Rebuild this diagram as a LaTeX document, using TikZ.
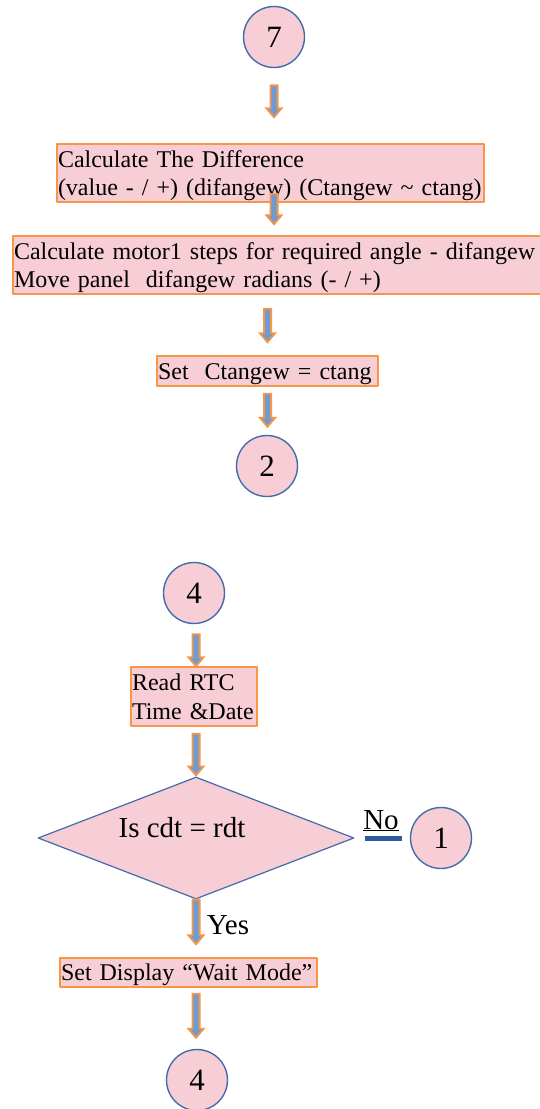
\documentclass[tikz,border=0pt]{standalone}
\usepackage{fontspec}
\setmainfont{Liberation Serif}
\usetikzlibrary{shapes.geometric,calc}
\definecolor{pinkfill}{RGB}{248,206,214}
\definecolor{orangeline}{RGB}{247,150,70}
\definecolor{circleblue}{RGB}{65,108,170}
\definecolor{arrowblue}{RGB}{110,155,210}
\definecolor{noblue}{RGB}{46,91,154}

% block arrow between two anchors, #3 and #4 are the gaps (px) below #1 and above #2
\newcommand{\flowarrow}[4]{%
  \filldraw[draw=orangeline,fill=arrowblue,line width=1.8pt,line join=miter]
    let \p1=($(#1)+(0,#3)$), \p2=($(#2)+(0,-#4)$) in
    (\x1-3.6pt,\y1) -- (\x1+3.6pt,\y1) -- (\x1+3.6pt,\y2+9pt) -- (\x1+7.6pt,\y2+9pt)
    -- (\x1,\y2) -- (\x1-7.6pt,\y2+9pt) -- (\x1-3.6pt,\y2+9pt) -- cycle;}
% one line of box text, never broken
\newcommand{\boxline}[1]{\mbox{\rule[-6pt]{0pt}{28.5pt}#1}}

\tikzset{
  conn/.style={circle,draw=circleblue,fill=pinkfill,line width=1.4pt,minimum size=61pt,
    inner sep=0pt,font=\fontsize{31}{36}\selectfont},
  procbox/.style={rectangle,draw=orangeline,fill=pinkfill,line width=1.5pt,align=left,
    inner xsep=1pt,inner ysep=0pt,font=\fontsize{24}{28.5}\selectfont},
  decision/.style={diamond,draw=circleblue,fill=pinkfill,line width=1.2pt,
    minimum width=316pt,minimum height=122pt,inner sep=0pt},
  bigtext/.style={font=\fontsize{29}{34}\selectfont},
}

\begin{document}
\begin{tikzpicture}[x=1pt,y=-1pt,line join=round]
      \useasboundingbox (0,0) rectangle (540,1109);
      % upper chart
      \node[conn] (c7) at (274,37) {7};
      \node[procbox,text width=425pt,minimum height=58pt] (calcdiff) at (270.5,173)
        {\boxline{Calculate The Difference}\\\boxline{(value - / +) (difangew) (Ctangew \char`~{} ctang)}};
      \node[procbox,text width=527pt,minimum height=58pt] (calcsteps) at (277.5,265)
        {\boxline{Calculate motor1 steps for required angle - difangew}\\\boxline{Move panel\ \ difangew radians (- / +)}};
      \node[procbox,text width=219pt,minimum height=30pt] (setct) at (267.5,371)
        {\boxline{Set\ \ Ctangew = ctang}};
      \node[conn] (c2) at (267,466) {2};
      \flowarrow{c7.south}{calcdiff.north}{17}{26}
      \flowarrow{c7 |- calcdiff.south}{calcsteps.north}{-9}{11}
      \flowarrow{setct.north |- calcsteps.south}{setct.north}{14}{13}
      \flowarrow{setct.south}{c2.north}{7}{8}
      % lower chart
      \node[conn] (c4) at (194,593) {4};
      \node[procbox,text width=124pt,minimum height=59pt] (readrtc) at (194,696.5)
        {\boxline{Read RTC}\\\boxline{Time \&Date}};
      \node[decision,label={[bigtext,xshift=-14pt,yshift=10pt]center:Is cdt = rdt}] (cmp) at (196,838) {};
      \node[conn] (c1) at (441,838) {1};
      \node[procbox,text width=255pt,minimum height=29pt] (setwait) at (188.5,972.5)
        {\boxline{Set Display “Wait Mode”}};
      \node[conn] (c4b) at (197,1080) {4};
      \flowarrow{cmp.north |- c4.south}{readrtc.north}{10}{0}
      \flowarrow{cmp.north |- readrtc.south}{cmp.north}{7}{1}
      \flowarrow{cmp.south}{setwait.north}{0}{13}
      \flowarrow{cmp.south |- setwait.south}{c4b.north}{6}{11}
      \draw[color=noblue,line width=5pt,shorten <=10pt,shorten >=7.5pt] (cmp.east) -- (c1.west);
      \node[bigtext,anchor=base] (nolabel) at (381,829) {\underline{No}};
      \node[bigtext] (yeslabel) at (228,925) {Yes};
\end{tikzpicture}
\end{document}
